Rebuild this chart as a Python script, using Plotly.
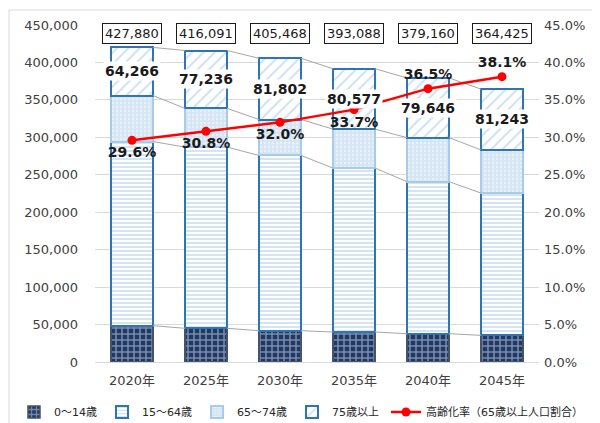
import plotly.graph_objects as go

years = ["2020年", "2025年", "2030年", "2035年", "2040年", "2045年"]
age_0_14 = [48500, 45000, 41800, 40000, 37800, 35600]
age_15_64 = [245800, 242000, 234000, 219000, 203000, 190000]
age_65_74 = [61500, 51700, 48000, 52000, 58800, 57600]
age_75_over = [64266, 77236, 81802, 80577, 79646, 81243]
totals = [427880, 416091, 405468, 393088, 379160, 364425]
aging_rate = [0.296, 0.308, 0.320, 0.337, 0.365, 0.381]
rate_pos = ["bottom center", "bottom center", "bottom center", "bottom center", "top center", "top center"]

FONT = "DejaVu Sans, Noto Sans CJK JP, sans-serif"
BW = 0.57
xs = list(range(len(years)))
L, R, T, B = 87, 69, 17, 69
PW, PH = 600 - L - R, 423 - T - B
LEG_Y = -(404 - (T + PH)) / PH

fig = go.Figure()

fig.add_trace(go.Bar(
    x=xs, y=age_0_14, name="0～14歳", width=BW, legendwidth=43,
    marker=dict(color="#203864", line=dict(color="#44546a", width=1.5),
                pattern=dict(shape="+", fgcolor="#d5deee", bgcolor="#203864", size=6, solidity=0.45)),
))
fig.add_trace(go.Bar(
    x=xs, y=age_15_64, name="15～64歳", width=BW, legendwidth=50,
    marker=dict(color="white", line=dict(color="#2e75b6", width=2),
                pattern=dict(shape="-", fgcolor="#9dc3e6", bgcolor="white", size=4, solidity=0.45)),
))
fig.add_trace(go.Bar(
    x=xs, y=age_65_74, name="65～74歳", width=BW, legendwidth=50,
    marker=dict(color="#dce9f6", line=dict(color="#a9cbea", width=2),
                pattern=dict(shape=".", fgcolor="#ffffff", bgcolor="#d5e5f4", size=4, solidity=0.3)),
))
fig.add_trace(go.Bar(
    x=xs, y=age_75_over, name="75歳以上", width=BW, legendwidth=47,
    marker=dict(color="white", line=dict(color="#2e75b6", width=2),
                pattern=dict(shape="/", fgcolor="#9dc3e6", bgcolor="white", size=8, solidity=0.25)),
))

# series lines connecting segment tops between adjacent bars
series = [age_0_14, age_15_64, age_65_74, age_75_over]
cum = [0] * len(years)
lx, ly = [], []
for s in series:
    cum = [c + v for c, v in zip(cum, s)]
    for i in range(len(years) - 1):
        lx += [i + BW / 2, i + 1 - BW / 2, None]
        ly += [cum[i], cum[i + 1], None]
fig.add_trace(go.Scatter(x=lx, y=ly, mode="lines", line=dict(color="#a6a6a6", width=1),
                         showlegend=False, hoverinfo="skip"))

fig.add_trace(go.Scatter(
    x=xs, y=aging_rate, yaxis="y2", name="高齢化率（65歳以上人口割合）", legend="legend2",
    mode="lines+markers+text", line=dict(color="#ff0000", width=2.5),
    marker=dict(color="#ff0000", size=9),
    text=[f"{v*100:.1f}%" for v in aging_rate], textposition=rate_pos,
    textfont=dict(family=FONT, size=14, color="#1a1a1a", weight="bold"),
))

annotations = []
base = [a + b + c for a, b, c in zip(age_0_14, age_15_64, age_65_74)]
for i, v in enumerate(age_75_over):
    annotations.append(dict(x=i, y=base[i] + v / 2, text=f"{v:,}", showarrow=False,
                            font=dict(family=FONT, size=14, color="#1a1a1a", weight="bold"),
                            bgcolor="white", borderpad=1))
for i, t in enumerate(totals):
    annotations.append(dict(x=i, y=438000, text=f"{t:,}", showarrow=False,
                            font=dict(family=FONT, size=13, color="#1a1a1a"),
                            bgcolor="white", bordercolor="#1a1a1a", borderwidth=1, borderpad=2))

legend_common = dict(orientation="h", y=LEG_Y, yanchor="middle", xanchor="left",
                     font=dict(size=11, color="#262626"), itemwidth=30,
                     bgcolor="rgba(0,0,0,0)", traceorder="normal")

fig.update_layout(
    width=600, height=423,
    margin=dict(l=L, r=R, t=T, b=B, autoexpand=False),
    paper_bgcolor="white", plot_bgcolor="white",
    barmode="stack",
    font=dict(family=FONT, size=13, color="#404040"),
    xaxis=dict(tickmode="array", tickvals=xs, ticktext=years, range=[-0.5, len(years) - 0.5],
               showgrid=False, zeroline=False, showline=True, linecolor="#d9d9d9",
               ticks="", ticklabelstandoff=6, tickfont=dict(size=13, color="#404040")),
    yaxis=dict(range=[0, 450000], dtick=50000, tickformat=",", showgrid=True, gridcolor="#d9d9d9",
               zeroline=False, ticks="", ticklabelstandoff=16, tickfont=dict(size=13, color="#404040")),
    yaxis2=dict(range=[0, 0.45], dtick=0.05, tickformat=".1%", overlaying="y", side="right",
                showgrid=False, zeroline=False, ticks="", ticklabelstandoff=4,
                tickfont=dict(size=13, color="#404040")),
    legend=dict(x=(6 - L) / PW, **legend_common),
    legend2=dict(x=(378 - L) / PW, **legend_common),
    annotations=annotations,
    shapes=[dict(type="rect", xref="paper", yref="paper",
                 x0=-(L - 1) / PW, x1=(594 - L) / PW, y0=-(B - 1) / PH, y1=1 + (T - 2) / PH,
                 line=dict(color="#d9d9d9", width=1), fillcolor="rgba(0,0,0,0)")],
)

fig.write_html("out.html")
